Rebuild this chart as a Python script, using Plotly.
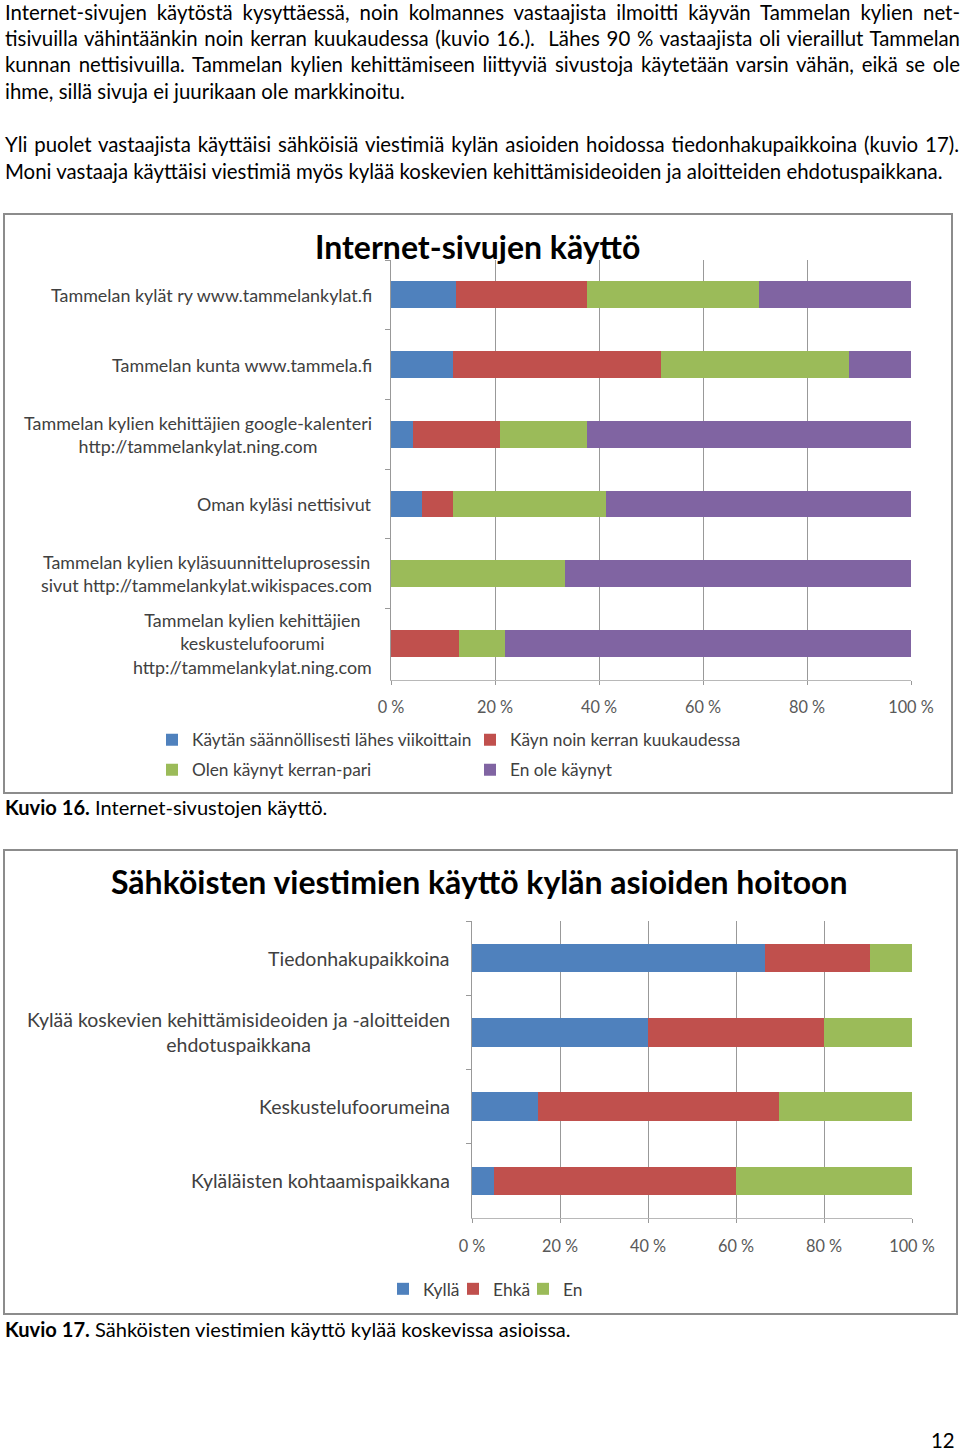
import json
import plotly.graph_objects as go

W, H = 960, 1451


def fx(x):
    return x / W


def fy(y):
    return 1 - y / H


BODY_FONT = "Lato, sans-serif"
CHART_FONT = "Lato, sans-serif"

# ---------------- data: chart 1 ----------------
site_labels = [
    "Tammelan kylät ry www.tammelankylat.fi",
    "Tammelan kunta www.tammela.fi",
    "Tammelan kylien kehittäjien google-kalenteri<br>http://tammelankylat.ning.com",
    "Oman kyläsi nettisivut",
    "Tammelan kylien kyläsuunnitteluprosessin<br>sivut http://tammelankylat.wikispaces.com",
    "Tammelan kylien kehittäjien<br>keskustelufoorumi<br>http://tammelankylat.ning.com",
]
weekly = [12.5, 12.0, 4.2, 6.0, 0.0, 0.0]
monthly = [25.2, 40.0, 16.8, 5.9, 0.0, 13.1]
once = [33.1, 36.0, 16.7, 29.4, 33.5, 8.8]
never = [29.2, 12.0, 62.3, 58.7, 66.5, 78.1]
series1_names = [
    "Käytän säännöllisesti lähes viikoittain",
    "Käyn noin kerran kuukaudessa",
    "Olen käynyt kerran-pari",
    "En ole käynyt",
]

# ---------------- data: chart 2 ----------------
use_labels = [
    "Tiedonhakupaikkoina",
    "Kylää koskevien kehittämisideoiden ja -aloitteiden<br>ehdotuspaikkana",
    "Keskustelufoorumeina",
    "Kyläläisten kohtaamispaikkana",
]
yes = [66.6, 40.0, 15.0, 5.0]
maybe = [23.9, 40.0, 54.8, 55.0]
no = [9.5, 20.0, 30.2, 40.0]
series2_names = ["Kyllä", "Ehkä", "En"]

tick_vals = [0, 20, 40, 60, 80, 100]
tick_text = ["0 %", "20 %", "40 %", "60 %", "80 %", "100 %"]

colors = ["#4F81BD", "#C0504D", "#9BBB59", "#8064A2"]

# (y centre, text, justified width or None)
body_lines = [
    (12, "Internet-sivujen käytöstä kysyttäessä, noin kolmannes vastaajista ilmoitti käyvän Tammelan kylien net-", 955),
    (38, "tisivuilla vähintäänkin noin kerran kuukaudessa (kuvio 16.).  Lähes 90 % vastaajista oli vieraillut Tammelan", 955),
    (64, "kunnan nettisivuilla. Tammelan kylien kehittämiseen liittyviä sivustoja käytetään varsin vähän, eikä se ole", 955),
    (91, "ihme, sillä sivuja ei juurikaan ole markkinoitu.", None),
    (144, "Yli puolet vastaajista käyttäisi sähköisiä viestimiä kylän asioiden hoidossa tiedonhakupaikkoina (kuvio 17).", 954),
    (171, "Moni vastaaja käyttäisi viestimiä myös kylää koskevien kehittämisideoiden ja aloitteiden ehdotuspaikkana.", None),
]

fig = go.Figure()

legend_map1 = ["legend", "legend", "legend3", "legend3"]
for name, vals, col, lg in zip(series1_names, [weekly, monthly, once, never], colors, legend_map1):
    fig.add_trace(go.Bar(
        y=site_labels, x=vals, name=name, orientation="h",
        marker=dict(color=col, line=dict(width=0)),
        xaxis="x", yaxis="y", legend=lg,
    ))

for name, vals, col in zip(series2_names, [yes, maybe, no], colors[:3]):
    fig.add_trace(go.Bar(
        y=use_labels, x=vals, name=name, orientation="h",
        marker=dict(color=col, line=dict(width=0)),
        xaxis="x2", yaxis="y2", legend="legend2",
    ))

grid = "#999999"
axline = "#b8b8b8"
axis_common = dict(range=[0, 100], tickvals=tick_vals, ticktext=tick_text,
                   showgrid=True, gridcolor=grid, gridwidth=1, zeroline=False,
                   showline=True, linecolor=axline, linewidth=1,
                   ticks="outside", ticklen=4, tickcolor=grid, fixedrange=True)

annotations = []
for y, t, _ in body_lines:
    annotations.append(dict(x=fx(3), y=fy(y), xref="paper", yref="paper", text=t,
                            showarrow=False, xanchor="left", yanchor="middle", align="left",
                            font=dict(family=BODY_FONT, size=20.4, color="#000000")))

annotations.append(dict(x=fx(477), y=fy(247), xref="paper", yref="paper",
                        text="<b>Internet-sivujen käyttö</b>", showarrow=False,
                        xanchor="center", yanchor="middle",
                        font=dict(family=BODY_FONT, size=32, color="#000000")))
annotations.append(dict(x=fx(479), y=fy(882), xref="paper", yref="paper",
                        text="<b>Sähköisten viestimien käyttö kylän asioiden hoitoon</b>", showarrow=False,
                        xanchor="center", yanchor="middle",
                        font=dict(family=BODY_FONT, size=32, color="#000000")))

for lab in site_labels:
    annotations.append(dict(x=fx(374), y=lab, xref="paper", yref="y", text=lab,
                            showarrow=False, xanchor="right", yanchor="middle", align="center",
                            font=dict(family=CHART_FONT, size=17.9, color="#404040")))
for lab in use_labels:
    annotations.append(dict(x=fx(452), y=lab, xref="paper", yref="y2", text=lab,
                            showarrow=False, xanchor="right", yanchor="middle", align="center",
                            font=dict(family=CHART_FONT, size=19.5, color="#404040")))

annotations.append(dict(x=fx(3), y=fy(807), xref="paper", yref="paper",
                        text="<b>Kuvio 16.</b> Internet-sivustojen käyttö.", showarrow=False,
                        xanchor="left", yanchor="middle",
                        font=dict(family=BODY_FONT, size=20.1, color="#000000")))
annotations.append(dict(x=fx(3), y=fy(1329), xref="paper", yref="paper",
                        text="<b>Kuvio 17.</b> Sähköisten viestimien käyttö kylää koskevissa asioissa.", showarrow=False,
                        xanchor="left", yanchor="middle",
                        font=dict(family=BODY_FONT, size=20.1, color="#000000")))
annotations.append(dict(x=fx(957), y=fy(1440), xref="paper", yref="paper",
                        text="12", showarrow=False, xanchor="right", yanchor="middle",
                        font=dict(family=BODY_FONT, size=20.4, color="#000000")))

shapes = [
    dict(type="rect", xref="paper", yref="paper", x0=fx(4), x1=fx(952), y0=fy(793), y1=fy(214),
         line=dict(color="#8c8c8c", width=2), fillcolor="rgba(0,0,0,0)", layer="below"),
    dict(type="rect", xref="paper", yref="paper", x0=fx(4), x1=fx(957), y0=fy(1314), y1=fy(850),
         line=dict(color="#8c8c8c", width=2), fillcolor="rgba(0,0,0,0)", layer="below"),
]

leg_common = dict(orientation="h", xanchor="left", yanchor="middle",
                  bgcolor="rgba(0,0,0,0)", entrywidthmode="pixels", traceorder="normal",
                  itemclick=False, itemdoubleclick=False)

fig.update_layout(
    width=W, height=H, margin=dict(l=0, r=0, t=0, b=0, autoexpand=False),
    paper_bgcolor="white", plot_bgcolor="white",
    barmode="stack", bargap=0.615,
    font=dict(family=CHART_FONT, size=15, color="#404040"),
    xaxis=dict(domain=[fx(391), fx(911)], anchor="y",
               tickfont=dict(family=CHART_FONT, size=16.3, color="#595959"),
               ticklabelstandoff=8, **axis_common),
    yaxis=dict(domain=[fy(680), fy(260)], anchor="x", type="category",
               autorange="reversed", showticklabels=False, showgrid=False,
               showline=True, linecolor=grid, linewidth=1, ticks="outside",
               tickson="boundaries", ticklen=5, tickcolor=grid, fixedrange=True),
    xaxis2=dict(domain=[fx(472), fx(912)], anchor="y2",
                tickfont=dict(family=CHART_FONT, size=16.3, color="#595959"),
                ticklabelstandoff=9, **axis_common),
    yaxis2=dict(domain=[fy(1218), fy(921)], anchor="x2", type="category",
                autorange="reversed", showticklabels=False, showgrid=False,
                showline=True, linecolor=grid, linewidth=1, ticks="outside",
                tickson="boundaries", ticklen=5, tickcolor=grid, fixedrange=True),
    legend=dict(x=fx(152), y=fy(740), entrywidth=273,
                font=dict(family=CHART_FONT, size=17.3, color="#404040"), **leg_common),
    legend3=dict(x=fx(152), y=fy(770), entrywidth=273,
                 font=dict(family=CHART_FONT, size=17.3, color="#404040"), **leg_common),
    legend2=dict(x=fx(383), y=fy(1289), entrywidth=25,
                 font=dict(family=CHART_FONT, size=17.4, color="#404040"), **leg_common),
    annotations=annotations,
    shapes=shapes,
    showlegend=True,
)

justify = {t: w for _, t, w in body_lines if w}

post = """
document.body.style.margin='0';
document.body.style.overflow='hidden';
(function(){
  var just = %s;
  var els = document.querySelectorAll('text.annotation-text');
  els.forEach(function(el){
    var t = el.textContent;
    if (!(t in just)) return;
    var cur = el.getComputedTextLength();
    var n = (t.match(/ /g) || []).length;
    if (n > 0 && cur < just[t]) {
      el.style.wordSpacing = ((just[t] - cur) / n) + 'px';
    }
  });
})();
""" % json.dumps(justify, ensure_ascii=False)

fig.write_html("out.html", config={"displayModeBar": False}, post_script=post)
